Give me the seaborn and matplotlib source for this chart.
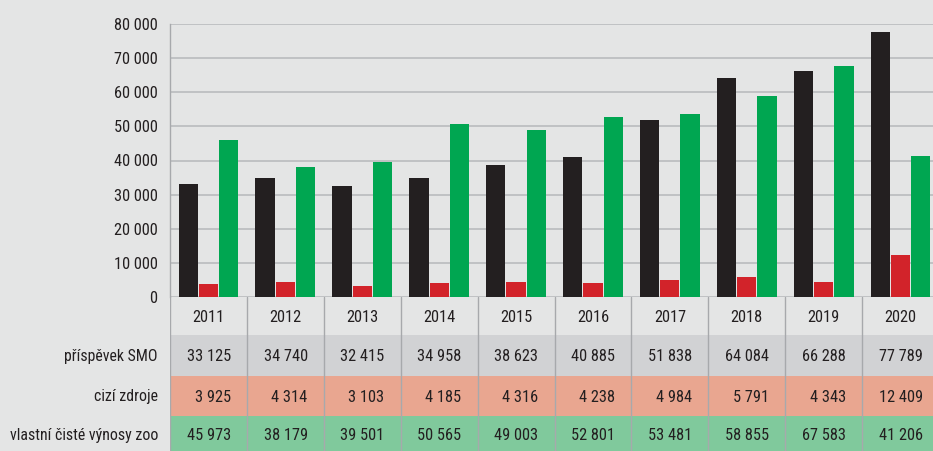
"""
Zoo financing 2011-2020: bar chart with a data table underneath.
"""

import numpy as np
import pandas as pd
import matplotlib
matplotlib.use("Agg")
import matplotlib.pyplot as plt
from matplotlib import font_manager
import seaborn as sns


# ──────────────────────────────────────────────
# Data
# ──────────────────────────────────────────────

years = ["2011", "2012", "2013", "2014", "2015", "2016", "2017", "2018", "2019", "2020"]
smo = [33125, 34740, 32415, 34958, 38623, 40885, 51838, 64084, 66288, 77789]
cizi = [3925, 4314, 3103, 4185, 4316, 4238, 4984, 5791, 4343, 12409]
vlastni = [45973, 38179, 39501, 50565, 49003, 52801, 53481, 58855, 67583, 41206]

series_names = ["příspěvek SMO", "cizí zdroje", "vlastní čisté výnosy zoo"]
bar_colors = ["#231f20", "#d2232a", "#00a651"]
row_colors = ["#d1d2d4", "#e9a690", "#80c99c"]
y_ticks = [0, 10000, 20000, 30000, 40000, 50000, 60000, 70000, 80000]

BG = "#e4e5e5"
GRID = "#bdbfc1"
DIVIDER = "#a7a9ac"
TEXT = "#231f20"


def fmt(v):
    """Czech style thousands separator (space)."""
    return f"{v:,}".replace(",", " ")


df = pd.DataFrame({"rok": years, series_names[0]: smo,
                   series_names[1]: cizi, series_names[2]: vlastni})
long_df = df.melt(id_vars="rok", var_name="zdroj", value_name="hodnota")

# ──────────────────────────────────────────────
# Figure setup
# ──────────────────────────────────────────────

sns.set_theme(style="white")

# original uses a condensed grotesque; take the narrowest one we have
installed = {f.name for f in font_manager.fontManager.ttflist}
FONT = "Roboto"
for cand in ["Roboto Condensed", "Liberation Sans Narrow", "Arial Narrow", "Open Sans Condensed"]:
    if cand in installed:
        FONT = cand
        break
plt.rcParams["font.family"] = [FONT, "DejaVu Sans"]
plt.rcParams["text.color"] = TEXT

W, H = 933, 451
fig = plt.figure(figsize=(W / 100, H / 100), dpi=100, facecolor=BG)
renderer = fig.canvas.get_renderer()


def size_for(sample, target_px, base=12):
    """Font size that gives `sample` the pixel width seen in the original."""
    t = fig.text(0, 0, sample, fontsize=base)
    w = t.get_window_extent(renderer).width
    t.remove()
    return base * target_px / w


FS_NUM = size_for("33 125", 44)
FS_LAB = size_for("příspěvek SMO", 94)

left, cell_w = 170, 76.9
ax_w = cell_w * len(years)
zero_y, top_y = 297, 24

ax = fig.add_axes([left / W, (H - zero_y) / H, ax_w / W, (zero_y - top_y) / H])
ax.set_facecolor(BG)

sns.barplot(data=long_df, x="rok", y="hodnota", hue="zdroj", order=years,
            hue_order=series_names, palette=bar_colors, width=0.79, gap=0.05,
            saturation=1, legend=False, ax=ax, zorder=3,
            edgecolor="none", linewidth=0)

ax.set_xlim(-0.5, len(years) - 0.5)
ax.set_ylim(0, 80000)
ax.set_yticks(y_ticks)
ax.set_yticklabels([fmt(t) for t in y_ticks], fontsize=FS_NUM, color=TEXT)
ax.yaxis.grid(True, color=GRID, lw=1.3, zorder=0)
ax.set_axisbelow(True)
ax.tick_params(axis="y", length=0, pad=9)
ax.set_xlabel("")
ax.set_ylabel("")

# category dividers poking up from the bottom
ax.set_xticks(np.arange(len(years) + 1) - 0.5)
ax.set_xticklabels([])
ax.tick_params(axis="x", direction="in", length=4, width=1, color=DIVIDER)

for side in ["top", "right", "bottom"]:
    ax.spines[side].set_visible(False)
ax.spines["left"].set_color(DIVIDER)
ax.spines["left"].set_linewidth(1)

# ──────────────────────────────────────────────
# Data table below the bars
# ──────────────────────────────────────────────

tab_h = H - zero_y
tax = fig.add_axes([left / W, 0, ax_w / W, tab_h / H])
tax.set_xlim(-0.5, len(years) - 0.5)
tax.set_ylim(tab_h, 0)
tax.axis("off")

# row edges in pixels from the zero line
edges = [1, 38, 79, 119, tab_h + 2]
tax.axhspan(edges[0], edges[1], color=BG, lw=0)
for i, c in enumerate(row_colors):
    tax.axhspan(edges[i + 1], edges[i + 2], color=c, lw=0)

for i, yr in enumerate(years):
    tax.text(i, (edges[0] + edges[1]) / 2 + 1, yr, ha="center", va="center",
             fontsize=FS_NUM)

for r, vals in enumerate([smo, cizi, vlastni]):
    yc = (edges[r + 1] + edges[r + 2]) / 2 + 1
    for i, v in enumerate(vals):
        tax.text(i + 0.29, yc, fmt(v), ha="right", va="center", fontsize=FS_NUM)
    fig.text((left - 12) / W, 1 - (zero_y + yc) / H, series_names[r],
             ha="right", va="center", fontsize=FS_LAB)

for b in np.arange(len(years) + 1) - 0.5:
    tax.axvline(b, color=DIVIDER, lw=1)

fig.savefig("out.png", dpi=100, facecolor=BG)
